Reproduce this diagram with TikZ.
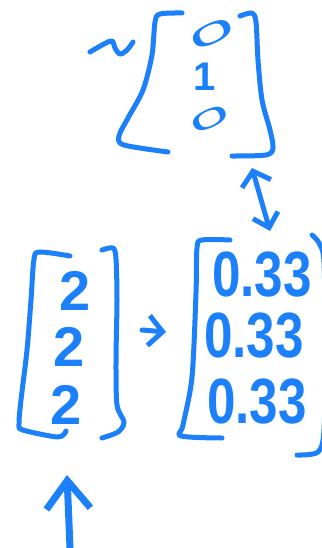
\documentclass[tikz,border=0pt]{standalone}
\usepackage{fontspec}
\setmainfont{Liberation Sans}
\usetikzlibrary{arrows.meta}
\definecolor{pen}{RGB}{27,128,250}
\tikzset{
  ink/.style={draw=pen, line width=5pt, line cap=round, line join=round},
  digit/.style={text=pen, inner sep=0pt, font=\fontsize{56}{56}\selectfont\bfseries},
  bigdigit/.style={text=pen, inner sep=0pt, font=\fontsize{64}{64}\selectfont\bfseries},
  topdigit/.style={text=pen, inner sep=0pt, font=\fontsize{40}{40}\selectfont\bfseries},
  topzero/.style={text=pen, inner sep=0pt, font=\fontsize{36}{36}\selectfont},
  dbarb/.style={ink, {Straight Barb[length=13pt,width=26pt,line width=5pt]}-{Straight Barb[length=13pt,width=30pt,line width=5pt]}}
}
\begin{document}
\begin{tikzpicture}[x=1pt,y=-1pt]
\useasboundingbox (0,0) rectangle (321,548);
% top matrix
\draw[ink] plot[smooth, tension=0.5] coordinates {(182,13) (160,14) (155,22) (152,55) (143,90) (128,118) (119,136) (124,145) (168,152)};
\draw[ink] plot[smooth, tension=0.5] coordinates {(240,16) (252,13) (256,22) (258,60) (262,100) (270,130) (273,148) (266,155) (232,156)};
\node[topzero, rotate=25, xscale=2.3, yscale=0.8] (t0) at (212,34) {0};
\node[topdigit] (t1) at (205,77) {1};
\node[topzero, rotate=25, xscale=2.0, yscale=0.72] (t2) at (210,119) {0};
% tilde
\draw[ink] plot[smooth, tension=0.6] coordinates {(90,52) (104,44) (112,41) (115,48) (120,54) (127,50) (133,42)};
% left matrix
\draw[ink] plot[smooth, tension=0.5] coordinates {(70,256) (40,252) (34,259) (31,300) (27,350) (21,400) (19,424) (23,430) (58,437) (66,431)};
\draw[ink] plot[smooth, tension=0.5] coordinates {(102,250) (113,248) (116,259) (117,300) (116,360) (117,405) (124,422) (118,432) (102,438)};
\node[digit] (a1) at (75,291) {2};
\node[digit] (a2) at (69,347) {2};
\node[digit] (a3) at (66,405) {2};
% right matrix
\draw[ink] plot[smooth, tension=0.5] coordinates {(230,240) (202,240) (197,248) (196,293) (192,377) (183,425) (181,436) (222,438)};
\draw[ink] plot[smooth, tension=0.5] coordinates {(312,235) (319,243) (324,262) (325,350) (324,430) (318,452) (297,455)};
\node[bigdigit, xscale=0.8] (b1) at (262,275) {0.33};
\node[bigdigit, xscale=0.8] (b2) at (254,336) {0.33};
\node[bigdigit, xscale=0.8] (b3) at (257,402) {0.33};
% connectors
\coordinate (dtop) at (252,168);
\coordinate (dbot) at (270,231);
\draw[dbarb] (dbot) -- (dtop);
\coordinate (sa) at (142,330);
\coordinate (sb) at (166,332);
\draw[ink, -{Straight Barb[length=14pt,width=30pt,line width=5pt]}] (sa) -- (sb);
\coordinate (ua) at (70,548);
\coordinate (ub) at (67,475);
\draw[ink, line width=7pt, -{Straight Barb[length=28pt,width=44pt,line width=7pt]}] (ua) -- (ub);
\end{tikzpicture}
\end{document}
